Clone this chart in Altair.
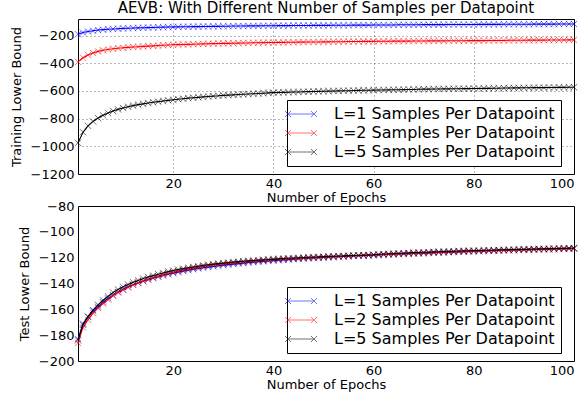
import altair as alt
import pandas as pd

epochs = list(range(1, 101))
series_names = ["L=1 Samples Per Datapoint", "L=2 Samples Per Datapoint", "L=5 Samples Per Datapoint"]
series_colors = ["#0000ff", "#ff0000", "#000000"]

train_l1 = [-190, -178, -170, -165, -160, -157, -154, -152, -150, -148,
            -147, -145, -144, -143, -142, -141, -140, -139, -138, -137,
            -137, -136, -136, -135, -135, -134, -134, -133, -133, -132,
            -132, -131, -131, -131, -130, -130, -130, -129, -129, -129,
            -128, -128, -128, -127, -127, -127, -127, -126, -126, -126,
            -126, -125, -125, -125, -125, -124, -124, -124, -124, -123,
            -123, -123, -123, -123, -122, -122, -122, -122, -122, -121,
            -121, -121, -121, -121, -120, -120, -120, -120, -120, -120,
            -119, -119, -119, -119, -119, -118, -118, -118, -118, -118,
            -118, -117, -117, -117, -117, -117, -116, -116, -116, -116]
train_l2 = [-390, -360, -340, -325, -314, -306, -300, -295, -291, -288,
            -285, -282, -280, -278, -276, -274, -272, -270, -268, -266,
            -265, -264, -263, -262, -261, -260, -259, -258, -257, -256,
            -256, -255, -254, -253, -253, -252, -252, -251, -250, -250,
            -249, -249, -248, -248, -247, -247, -246, -246, -246, -245,
            -245, -244, -244, -244, -243, -243, -243, -242, -242, -242,
            -241, -241, -241, -240, -240, -240, -240, -239, -239, -239,
            -238, -238, -238, -238, -237, -237, -237, -237, -236, -236,
            -236, -236, -235, -235, -235, -235, -234, -234, -234, -234,
            -233, -233, -233, -233, -232, -232, -232, -232, -231, -231]
train_l5 = [-975, -898, -852, -820, -796, -776, -759, -745, -733, -723,
            -714, -706, -699, -693, -687, -682, -677, -672, -668, -664,
            -660, -656, -652, -649, -646, -643, -640, -637, -635, -632,
            -630, -628, -626, -624, -622, -620, -618, -616, -614, -612,
            -611, -610, -609, -608, -607, -606, -605, -604, -603, -602,
            -601, -600, -599, -598, -598, -597, -596, -595, -595, -594,
            -593, -593, -592, -591, -591, -590, -589, -589, -588, -587,
            -587, -586, -586, -585, -585, -584, -584, -583, -583, -582,
            -582, -581, -581, -580, -580, -579, -579, -578, -578, -577,
            -577, -576, -576, -576, -575, -575, -574, -574, -573, -573]

test_l1 = [-183, -171, -166, -161.5, -158, -154.5, -151.5, -149, -146.5, -144.5,
           -142.6, -141, -139.5, -138.2, -137, -135.9, -134.8, -133.8, -132.9, -132,
           -131.2, -130.4, -129.7, -129.0, -128.4, -127.8, -127.3, -126.8, -126.3, -125.8,
           -125.4, -125.0, -124.6, -124.2, -123.8, -123.5, -123.2, -122.9, -122.6, -122.3,
           -122.0, -121.7, -121.5, -121.2, -121.0, -120.7, -120.5, -120.3, -120.1, -119.9,
           -119.7, -119.5, -119.3, -119.1, -118.9, -118.7, -118.5, -118.4, -118.2, -118.0,
           -117.9, -117.7, -117.5, -117.4, -117.2, -117.1, -116.9, -116.8, -116.6, -116.5,
           -116.3, -116.2, -116.0, -115.9, -115.7, -115.6, -115.5, -115.3, -115.2, -115.1,
           -114.9, -114.8, -114.7, -114.6, -114.4, -114.3, -114.2, -114.1, -114.0, -113.9,
           -113.8, -113.7, -113.6, -113.5, -113.4, -113.3, -113.2, -113.1, -113.0, -112.9]
test_l2 = [-186, -174, -168, -163, -159, -155.5, -152.5, -149.5, -147, -145,
           -143, -141.2, -139.6, -138.2, -136.8, -135.6, -134.4, -133.3, -132.3, -131.3,
           -130.4, -129.6, -128.8, -128.1, -127.4, -126.8, -126.2, -125.7, -125.2, -124.8,
           -124.4, -124.0, -123.6, -123.3, -123.0, -122.7, -122.4, -122.1, -121.8, -121.6,
           -121.4, -121.2, -121.0, -120.8, -120.6, -120.4, -120.2, -120.0, -119.8, -119.6,
           -119.4, -119.2, -119.0, -118.9, -118.7, -118.5, -118.4, -118.2, -118.1, -117.9,
           -117.8, -117.6, -117.5, -117.3, -117.2, -117.0, -116.9, -116.7, -116.6, -116.4,
           -116.3, -116.1, -116.0, -115.8, -115.7, -115.5, -115.4, -115.3, -115.1, -115.0,
           -114.9, -114.8, -114.7, -114.6, -114.5, -114.4, -114.3, -114.2, -114.1, -114.0,
           -113.9, -113.8, -113.7, -113.6, -113.5, -113.4, -113.3, -113.2, -113.1, -113.0]
test_l5 = [-184, -172, -165.5, -160.5, -156.5, -153, -150, -147, -144.7, -142.6,
           -140.8, -139.1, -137.6, -136.2, -135, -133.9, -132.8, -131.8, -130.8, -130,
           -129.2, -128.5, -127.8, -127.2, -126.6, -126, -125.5, -125, -124.6, -124.2,
           -123.8, -123.4, -123.1, -122.8, -122.5, -122.2, -121.9, -121.6, -121.4, -121.1,
           -120.9, -120.7, -120.5, -120.3, -120.1, -119.9, -119.7, -119.5, -119.4, -119.2,
           -119.0, -118.9, -118.7, -118.6, -118.4, -118.3, -118.1, -118.0, -117.9, -117.7,
           -117.4, -117.2, -117.0, -116.8, -116.6, -116.5, -116.3, -116.1, -116.0, -115.8,
           -115.7, -115.5, -115.4, -115.2, -115.1, -115.0, -114.8, -114.7, -114.6, -114.5,
           -114.4, -114.3, -114.2, -114.1, -114.0, -113.9, -113.8, -113.7, -113.6, -113.5,
           -113.4, -113.3, -113.2, -113.1, -113.0, -112.9, -112.8, -112.7, -112.6, -112.5]

title_text = "AEVB: With Different Number of Samples per Datapoint"
x_title = "Number of Epochs"
train_title = "Training Lower Bound"
test_title = "Test Lower Bound"
x_ticks = [20, 40, 60, 80, 100]
train_ticks = [-1200, -1000, -800, -600, -400, -200]
test_ticks = [-200, -180, -160, -140, -120, -100, -80]


def long_df(lists):
    rows = []
    for name, vals in zip(series_names, lists):
        for e, v in zip(epochs, vals):
            rows.append({"epoch": e, "value": v, "series": name})
    return pd.DataFrame(rows)


train_df = long_df([train_l1, train_l2, train_l5])
test_df = long_df([test_l1, test_l2, test_l5])

XPATH = "M-1,-1L1,1M-1,1L1,-1"
LEGEND_PATH = ("M-2.6,0L2.6,0M-3.2,-0.6L-2,0.6M-3.2,0.6L-2,-0.6"
               "M2,-0.6L3.2,0.6M2,0.6L3.2,-0.6")

FONT = "DejaVu Sans"


def panel(df, ytitle, ydomain, yticks, grid, title=None):
    x = alt.X("epoch:Q",
              scale=alt.Scale(domain=[1, 100], nice=False, zero=False),
              axis=alt.Axis(values=x_ticks, title=x_title, grid=grid, format="d"))
    y = alt.Y("value:Q",
              scale=alt.Scale(domain=ydomain, nice=False, zero=False),
              axis=alt.Axis(values=yticks, title=ytitle, grid=grid, format="d"))
    color = alt.Color("series:N",
                      scale=alt.Scale(domain=series_names, range=series_colors),
                      legend=alt.Legend(title=None, orient="none", legendX=209, legendY=81,
                                        symbolType=LEGEND_PATH, symbolSize=100,
                                        symbolStrokeWidth=1, symbolFillColor="transparent",
                                        labelLimit=0))
    layers = []
    for name in series_names:
        sub = alt.Chart(df).transform_filter(alt.datum.series == name)
        layers.append(sub.mark_line(strokeWidth=1.1).encode(x=x, y=y, color=color))
        layers.append(sub.mark_point(shape=XPATH, size=40, filled=False, strokeWidth=1,
                                     opacity=0.55).encode(x=x, y=y, color=color))
    ch = alt.layer(*layers).properties(width=496, height=155)
    if title is not None:
        ch = ch.properties(title=alt.TitleParams(title_text, fontSize=15, font=FONT,
                                                 fontWeight="normal", offset=3,
                                                 anchor="middle", color="black"))
    return ch


top = panel(train_df, train_title, [-1200, -80], train_ticks, True, title=True)
bottom = panel(test_df, test_title, [-200, -80], test_ticks, False)

chart = alt.vconcat(top, bottom, spacing=32, bounds="flush").resolve_scale(
    color="independent"
).resolve_legend(
    color="independent"
).properties(
    padding={"left": 9, "top": 0, "right": 0, "bottom": 0},
    background="white",
).configure_view(
    stroke="black", strokeWidth=1
).configure_axis(
    labelFont=FONT, labelFontSize=13, labelColor="black", labelPadding=4,
    titleFont=FONT, titleFontSize=13, titleFontWeight="normal", titleColor="black",
    ticks=False, domain=False,
    gridColor="black", gridOpacity=0.55, gridDash=[1, 3], gridWidth=1,
).configure_axisX(
    titlePadding=1, labelPadding=3
).configure_axisY(
    titlePadding=7
).configure_legend(
    labelFont=FONT, labelFontSize=16, labelColor="black",
    strokeColor="black", fillColor="white", padding=6,
    labelOffset=25, rowPadding=3, cornerRadius=0, strokeWidth=1,
)

chart.save("out.html", embed_options={"renderer": "svg", "actions": False})
